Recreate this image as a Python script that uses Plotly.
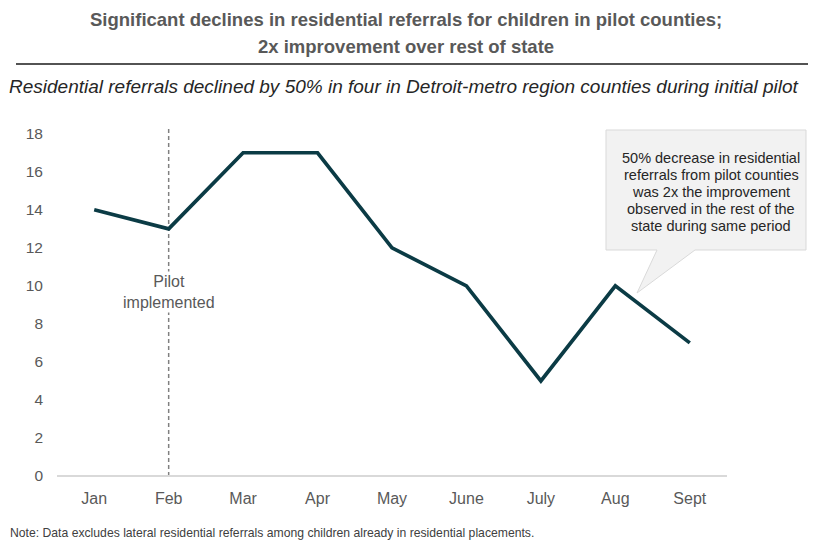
import plotly.graph_objects as go

months = ["Jan", "Feb", "Mar", "Apr", "May", "June", "July", "Aug", "Sept"]
referrals = [14, 13, 17, 17, 12, 10, 5, 10, 7]
y_ticks = [0, 2, 4, 6, 8, 10, 12, 14, 16, 18]

title_lines = ["Significant declines in residential referrals for children in pilot counties;",
               "2x improvement over rest of state"]
subtitle = "Residential referrals declined by 50% in four in Detroit-metro region counties during initial pilot"
callout_lines = ["50% decrease in residential", "referrals from pilot counties",
                 "was 2x the improvement", "observed in the rest of the",
                 "state during same period"]
footnote = "Note: Data excludes lateral residential referrals among children already in residential placements."

W, H = 813, 541
L, R, T, B = 57, 86, 129, 65
PW, PH = W - L - R, H - T - B

def px(x):
    return (x - L) / PW

def py(y):
    return (H - B - y) / PH

FONT = "Liberation Sans, Arial, sans-serif"
GRAY = "#595959"

fig = go.Figure()
fig.add_trace(go.Scatter(x=months, y=referrals, mode="lines",
                         line=dict(color="#0b3b45", width=3.7), hoverinfo="skip"))

fig.update_layout(
    width=W, height=H,
    margin=dict(l=L, r=R, t=T, b=B),
    paper_bgcolor="white", plot_bgcolor="white",
    showlegend=False,
    font=dict(family=FONT, color=GRAY),
    xaxis=dict(showgrid=False, showline=False, ticks="", zeroline=False,
               tickfont=dict(size=16, color=GRAY), range=[-0.5, 8.5], ticklabelstandoff=11),
    yaxis=dict(range=[0, 18.25], tickvals=y_ticks, showgrid=False, zeroline=True,
               zerolinecolor="#d9d9d9", zerolinewidth=1.5, showline=False,
               tickfont=dict(size=15.5, color=GRAY), ticklabelstandoff=13),
)

# Dashed pilot line
fig.add_shape(type="line", xref="x", yref="paper", x0=1, x1=1, y0=0, y1=1,
              line=dict(color="#808080", width=1.5, dash="4px,3px"), layer="below")

# Title
for t, yy in zip(title_lines, [19, 46]):
    fig.add_annotation(text=f"<b>{t}</b>", xref="paper", yref="paper", x=px(406), y=py(yy),
                       xanchor="center", yanchor="middle", showarrow=False,
                       font=dict(size=18.5, color=GRAY, family=FONT))
fig.add_shape(type="line", xref="paper", yref="paper", x0=px(16), x1=px(808), y0=py(64), y1=py(64),
              line=dict(color="#1a1a1a", width=1.5))
fig.add_annotation(text=f"<i>{subtitle}</i>",
                   xref="paper", yref="paper", x=px(404), y=py(86), xanchor="center", yanchor="middle",
                   showarrow=False, font=dict(size=19, color="#262626", family=FONT))

# Pilot label
fig.add_annotation(text="Pilot<br>implemented", xref="x", yref="paper", x=1, y=py(292),
                   xanchor="center", yanchor="middle", showarrow=False, bgcolor="white",
                   font=dict(size=16, color=GRAY, family=FONT))

# Callout box
bx0, bx1, by0, by1 = 606, 806, 130, 250
path = (f"M {px(bx0)} {py(by0)} L {px(bx1)} {py(by0)} L {px(bx1)} {py(by1)} "
        f"L {px(695)} {py(by1)} L {px(637)} {py(293)} L {px(657)} {py(by1)} "
        f"L {px(bx0)} {py(by1)} Z")
fig.add_shape(type="path", xref="paper", yref="paper", path=path,
              fillcolor="#f2f2f2", line=dict(color="#d9d9d9", width=1))
for i, t in enumerate(callout_lines):
    fig.add_annotation(text=t, xref="paper", yref="paper", x=px(711), y=py(158 + 16.9 * i),
                       xanchor="center", yanchor="middle", showarrow=False,
                       font=dict(size=14.5, color="#262626", family=FONT))

# Footnote
fig.add_annotation(text=footnote,
                   xref="paper", yref="paper", x=px(8), y=py(533), xanchor="left", yanchor="middle",
                   showarrow=False, font=dict(size=12.2, color="#404040", family=FONT))

fig.write_html("out.html", config={"displayModeBar": False})
with open("out.html", "r", encoding="utf-8") as f:
    html = f.read()
html = html.replace("<head>", "<head><style>body{margin:0;padding:0;}</style>", 1)
with open("out.html", "w", encoding="utf-8") as f:
    f.write(html)
